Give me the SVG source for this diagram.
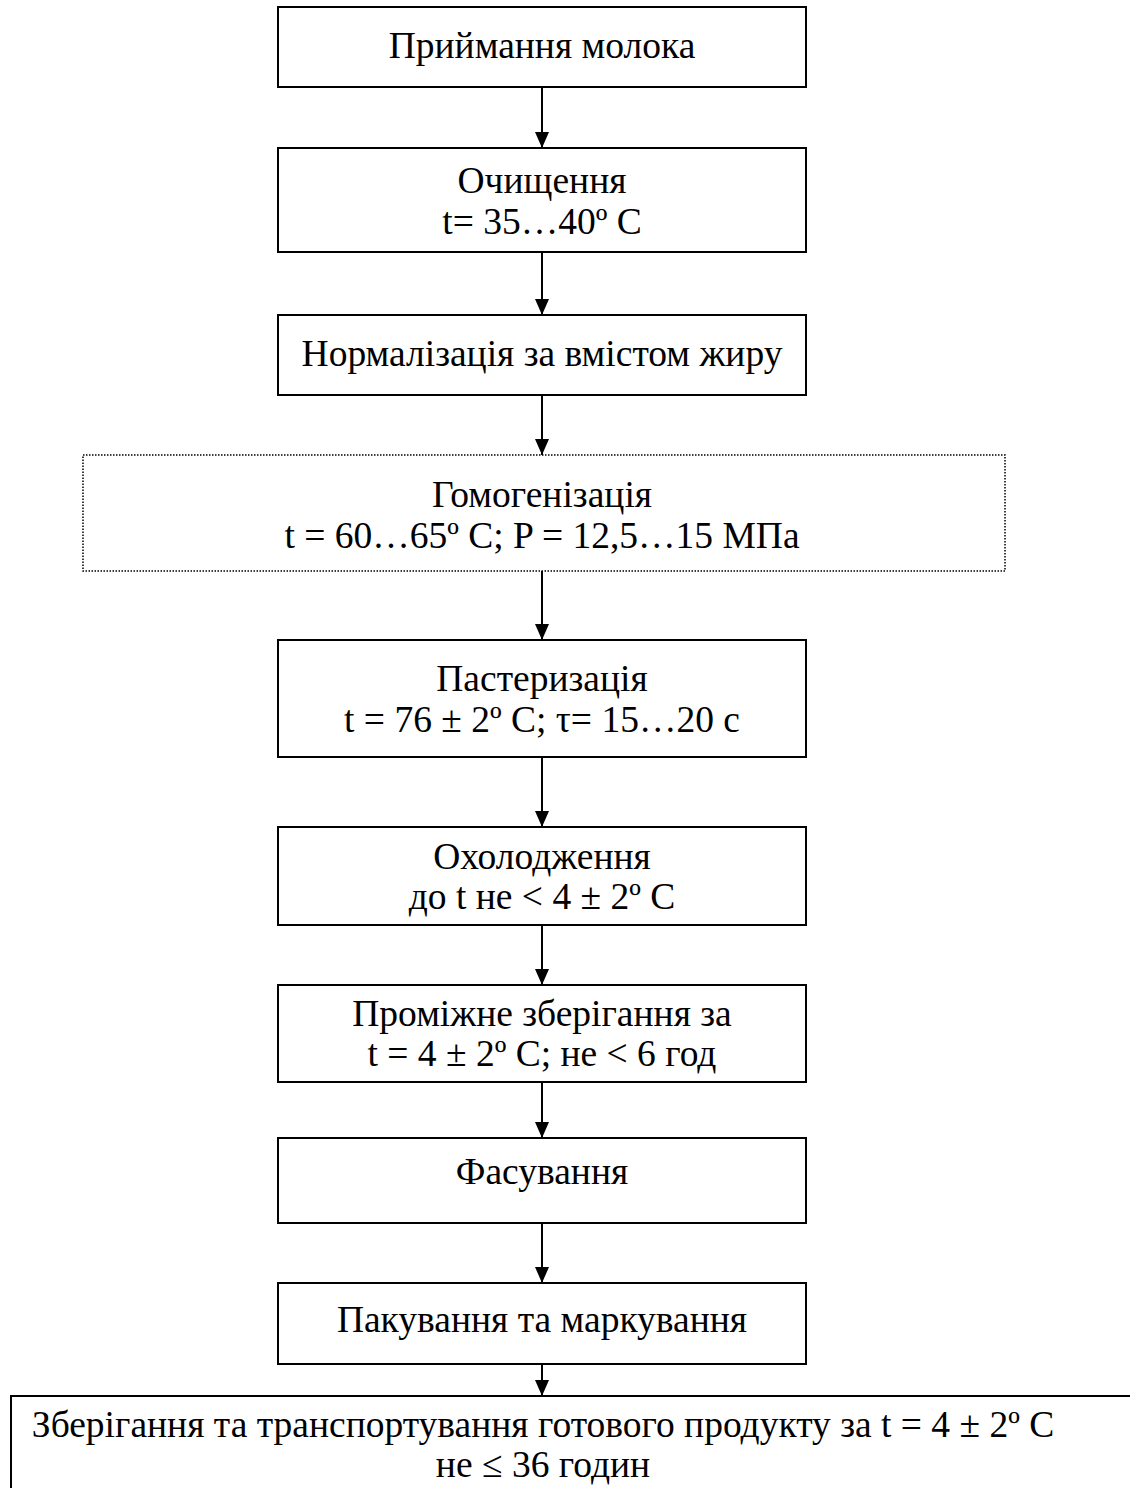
<svg xmlns="http://www.w3.org/2000/svg" width="1130" height="1488" viewBox="0 0 1130 1488">
<style>
.box{fill:#fff;stroke:#000;stroke-width:2}
.dot{fill:#fff;stroke:#000;stroke-width:1.5;stroke-dasharray:1.5 1.5}
.t{font-family:"Liberation Serif","Times New Roman",serif;font-size:37.5px;fill:#000;text-anchor:middle}
.c{stroke:#000;stroke-width:2;fill:none;marker-end:url(#ah)}
</style>
<defs>
<marker id="ah" markerWidth="16" markerHeight="14" refX="16" refY="7" orient="auto" markerUnits="userSpaceOnUse" viewBox="0 0 16 14">
<path d="M0,0 L16,7 L0,14 Z" fill="#000"/>
</marker>
</defs>
<rect width="1130" height="1488" fill="#fff"/>
<g id="connectors">
<line class="c" x1="542" y1="87" x2="542" y2="148"/>
<line class="c" x1="542" y1="252" x2="542" y2="315"/>
<line class="c" x1="542" y1="395" x2="542" y2="455"/>
<line class="c" x1="542" y1="571" x2="542" y2="640"/>
<line class="c" x1="542" y1="757" x2="542" y2="827"/>
<line class="c" x1="542" y1="925" x2="542" y2="985"/>
<line class="c" x1="542" y1="1082" x2="542" y2="1138"/>
<line class="c" x1="542" y1="1223" x2="542" y2="1283"/>
<line class="c" x1="542" y1="1364" x2="542" y2="1396"/>
</g>
<g id="n1"><rect class="box" x="278" y="7" width="528" height="80"/><text class="t" x="542" y="58">Приймання молока</text></g>
<g id="n2"><rect class="box" x="278" y="148" width="528" height="104"/><text class="t" x="542" y="193">Очищення</text><text class="t" x="542" y="234">t= 35…40º C</text></g>
<g id="n3"><rect class="box" x="278" y="315" width="528" height="80"/><text class="t" x="542" y="366">Нормалізація за вмістом жиру</text></g>
<g id="n4"><rect class="dot" x="83" y="455" width="922" height="116"/><text class="t" x="542" y="507">Гомогенізація</text><text class="t" x="542" y="548">t = 60…65º C; P = 12,5…15 МПа</text></g>
<g id="n5"><rect class="box" x="278" y="640" width="528" height="117"/><text class="t" x="542" y="691">Пастеризація</text><text class="t" x="542" y="732">t = 76 ± 2º C; τ= 15…20 с</text></g>
<g id="n6"><rect class="box" x="278" y="827" width="528" height="98"/><text class="t" x="542" y="869">Охолодження</text><text class="t" x="542" y="909">до t не &lt; 4 ± 2º C</text></g>
<g id="n7"><rect class="box" x="278" y="985" width="528" height="97"/><text class="t" x="542" y="1026">Проміжне зберігання за</text><text class="t" x="542" y="1066">t = 4 ± 2º C; не &lt; 6 год</text></g>
<g id="n8"><rect class="box" x="278" y="1138" width="528" height="85"/><text class="t" x="542" y="1184">Фасування</text></g>
<g id="n9"><rect class="box" x="278" y="1283" width="528" height="81"/><text class="t" x="542" y="1332">Пакування та маркування</text></g>
<g id="n10"><rect class="box" x="11" y="1396" width="1200" height="120"/><text class="t" x="543" y="1437">Зберігання та транспортування готового продукту за t = 4 ± 2º C</text><text class="t" x="543" y="1477">не ≤ 36 годин</text></g>
</svg>
